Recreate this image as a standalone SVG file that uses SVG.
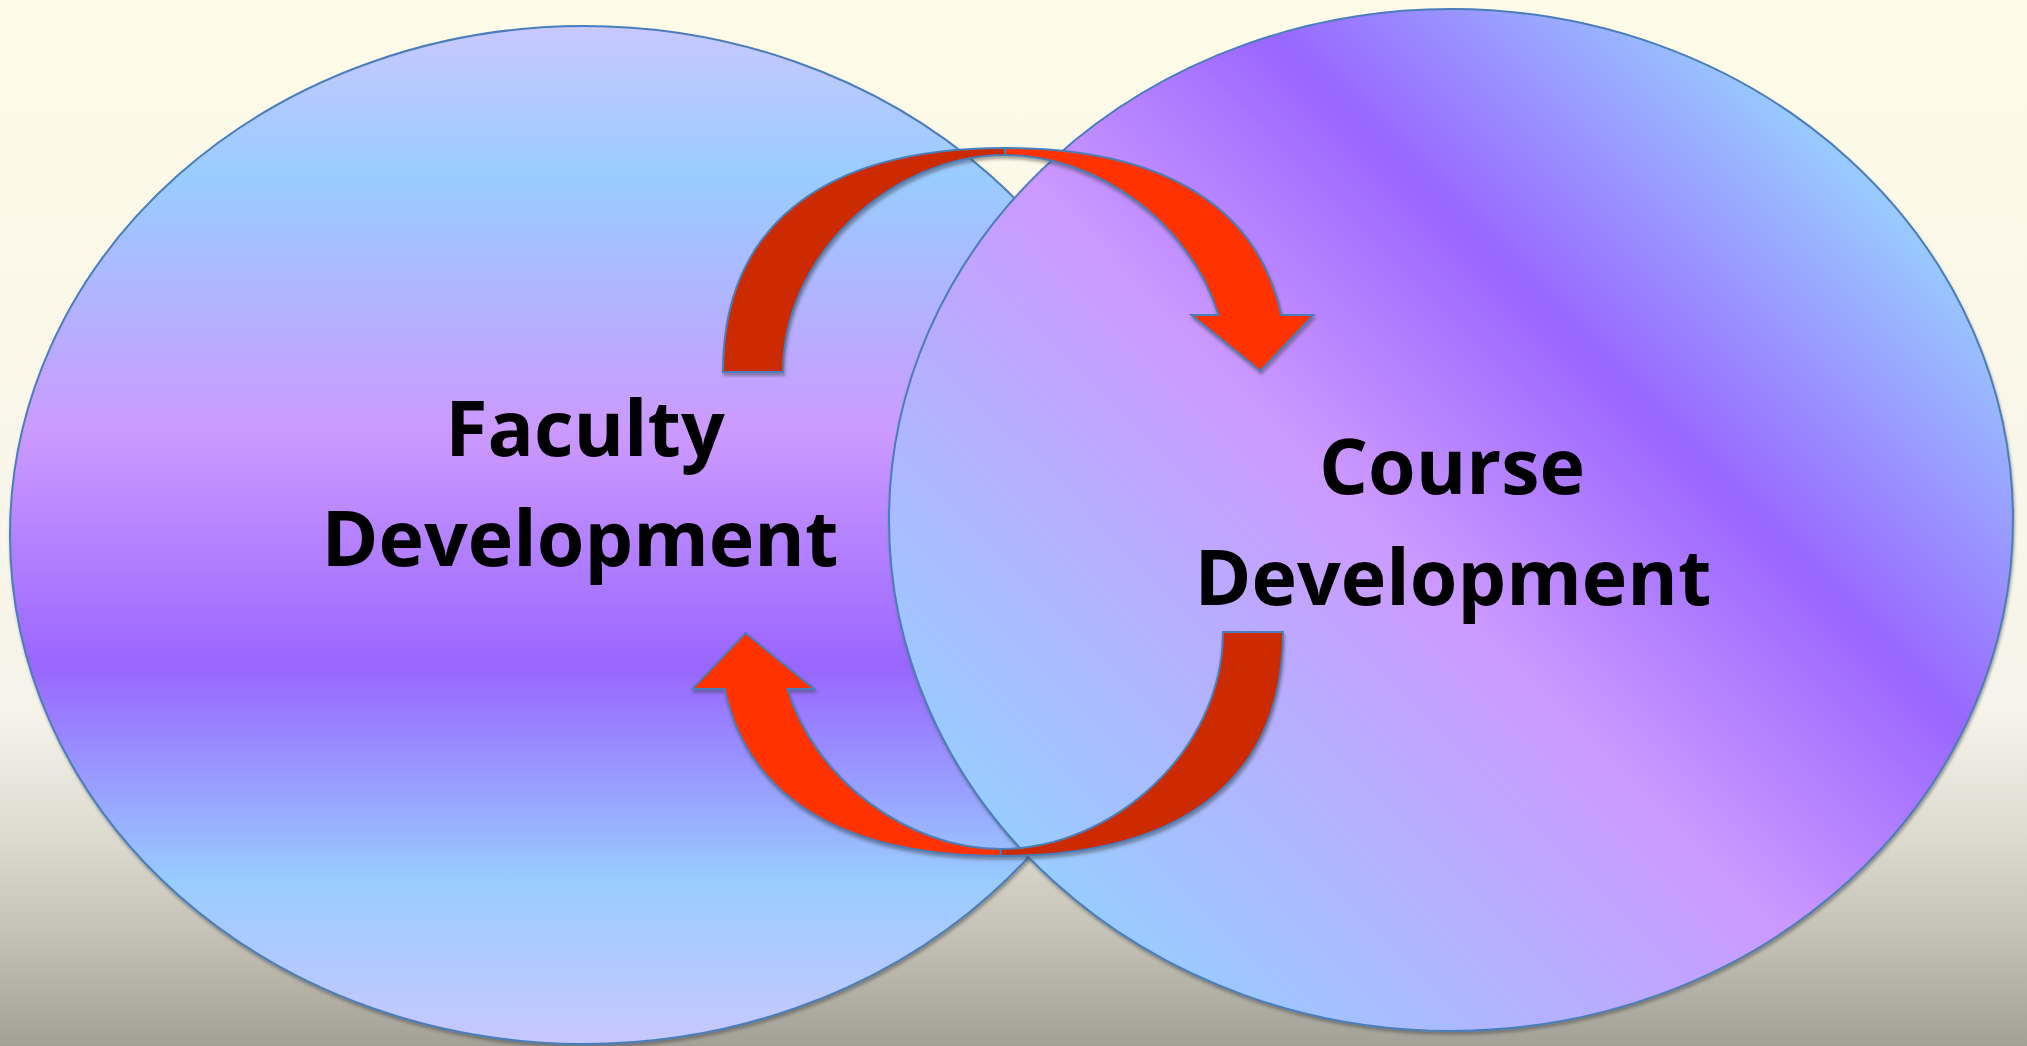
<svg xmlns="http://www.w3.org/2000/svg" width="2027" height="1046" viewBox="0 0 2027 1046">
<defs>
<style>
.lbl{font-family:"Open Sans","Liberation Sans",sans-serif;font-weight:700;font-size:77px;fill:#000;text-anchor:middle}
.oval{stroke:#4a7ebb;stroke-width:2}
.arr{stroke:#4a7ebb;stroke-width:2;stroke-linejoin:miter}
.back{fill:#cc2900}
.front{fill:#ff3300}
</style>
<linearGradient id="bg" x1="0" y1="0" x2="0" y2="1">
<stop offset="0" stop-color="#fefbe8"/>
<stop offset="0.68" stop-color="#f6f4ea"/>
<stop offset="0.8" stop-color="#dddbd0"/>
<stop offset="0.89" stop-color="#c5c3b7"/>
<stop offset="1" stop-color="#a3a196"/>
</linearGradient>
<linearGradient id="gL" x1="0" y1="0" x2="0" y2="1">
<stop offset="0" stop-color="#c8c8ff"/>
<stop offset="0.15" stop-color="#99ccff"/>
<stop offset="0.40" stop-color="#cc99ff"/>
<stop offset="0.63" stop-color="#9966ff"/>
<stop offset="0.70" stop-color="#9988ff"/>
<stop offset="0.84" stop-color="#99ccff"/>
<stop offset="1" stop-color="#c8c8ff"/>
</linearGradient>
<linearGradient id="gR" gradientUnits="userSpaceOnUse" x1="1071" y1="900" x2="1831" y2="140">
<stop offset="0" stop-color="#99ccff"/>
<stop offset="0.45" stop-color="#cc99ff"/>
<stop offset="0.70" stop-color="#9966ff"/>
<stop offset="1" stop-color="#99ccff"/>
</linearGradient>
<filter id="sh" x="-5%" y="-5%" width="110%" height="115%">
<feDropShadow dx="1" dy="3" stdDeviation="1.5" flood-color="#404040" flood-opacity="0.45"/>
</filter>
<g id="arrow">
<path class="arr back" d="M 723,372 C 723,232 815,148 1005,148 L 1005,155 C 895,155 783,252 783,372 Z"/>
<path class="arr front" d="M 1005,148 C 1167.6,148 1258.5,209.5 1281.3,315 L 1313.5,315 L 1260.5,371 L 1191.5,315 L 1218.5,315 C 1190.3,222.8 1097,155 1005,155 Z"/>
</g>
</defs>
<rect x="0" y="0" width="2027" height="1046" fill="url(#bg)"/>
<g id="node-faculty">
<ellipse class="oval" cx="584" cy="535" rx="574" ry="509" fill="url(#gL)" filter="url(#sh)"/>
<text class="lbl" x="585" y="456">Faculty</text>
<text class="lbl" x="580" y="566">Development</text>
</g>
<g id="node-course">
<ellipse class="oval" cx="1451" cy="520" rx="562" ry="511" fill="url(#gR)" filter="url(#sh)"/>
<text class="lbl" x="1452" y="494">Course</text>
<text class="lbl" x="1453" y="605">Development</text>
</g>
<g id="connectors" filter="url(#sh)">
<g id="arrow-faculty-to-course"><use href="#arrow"/></g>
<g id="arrow-course-to-faculty"><use href="#arrow" transform="rotate(180 1003 502)"/></g>
</g>
</svg>
